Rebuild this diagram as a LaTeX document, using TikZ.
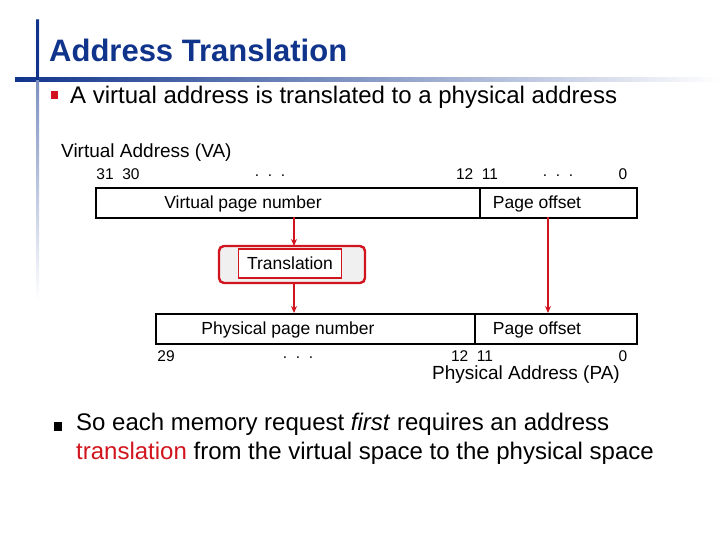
\documentclass[tikz,border=0pt]{standalone}
\usepackage{fontspec}
\setmainfont{Liberation Sans}
\usetikzlibrary{arrows.meta}
\definecolor{ttl}{RGB}{16,52,140}
\definecolor{rd}{RGB}{210,20,30}
\begin{document}
\begin{tikzpicture}[x=1pt,y=-1pt,
  fld/.style={draw,line width=1.6pt,anchor=north west,inner sep=0pt},
  lbl/.style={font=\fontsize{17.5}{19}\selectfont,inner sep=0pt},
  num/.style={font=\fontsize{15.5}{17}\selectfont,inner sep=0pt},
  arr/.style={draw=rd,line width=1.3pt,-{Stealth[length=7pt,width=6pt]}}]
\useasboundingbox (0,0) rectangle (720,540);
\fill[white] (0,0) rectangle (720,540);
\shade[left color=ttl,right color=white] (15,78) rectangle (720,82);
\shade[top color=ttl!70,bottom color=white] (36,20) rectangle (39,300);
\fill[ttl] (36,20) rectangle (39,80);
\node[anchor=west,text=ttl,font=\fontsize{31}{33}\selectfont\bfseries,inner sep=0pt] (title) at (49,50) {Address Translation};
\fill[rd] (51,91) rectangle (58,99);
\node[anchor=west,font=\fontsize{24}{26}\selectfont,inner sep=0pt] (b1) at (70,97) {A virtual address is translated to a physical address};
\node[anchor=west,font=\fontsize{19}{21}\selectfont,inner sep=0pt] (va) at (61,153) {Virtual Address (VA)};
\node[fld,minimum width=384pt,minimum height=30pt] (vpn) at (95,187) {};
\node[fld,minimum width=157pt,minimum height=30pt] (vpo) at (479,187) {};
\node[lbl] at (243,204) {Virtual page number};
\node[lbl] at (537,204) {Page offset};
\node[num] (t1) at (118,174) {31~~30};
\node[num] (t2) at (270,176) {.~~.~~.};
\node[num] (t3) at (477,174) {12~~11};
\node[num] (t4) at (558,176) {.~~.~~.};
\node[num] (t5) at (623,174) {0};
\node[draw=rd,line width=2.4pt,rounded corners=5pt,fill=gray!12,minimum width=146pt,minimum height=37pt] (tro) at (292,264.5) {};
\node[draw=rd,line width=1.8pt,fill=white,minimum width=103pt,minimum height=29pt,lbl,inner sep=0pt] (tr) at (290,263.5) {Translation};
\node[fld,minimum width=319pt,minimum height=30pt] (ppn) at (155,313) {};
\node[fld,minimum width=162pt,minimum height=30pt] (ppo) at (474,313) {};
\node[lbl] at (288,330) {Physical page number};
\node[lbl] at (537,330) {Page offset};
\node[num] at (166,356) {29};
\node[num] at (298,358) {.~~.~~.};
\node[num] at (472,356) {12~~11};
\node[num] at (623,356) {0};
\node[anchor=west,font=\fontsize{19}{21}\selectfont,inner sep=0pt] (pa) at (432,375) {Physical Address (PA)};
\coordinate (a1) at (294,217); \coordinate (a2) at (294,246);
\coordinate (a3) at (294,283); \coordinate (a4) at (294,313);
\coordinate (a5) at (548,217); \coordinate (a6) at (548,313);
\draw[arr] (a1) -- (a2);
\draw[arr] (a3) -- (a4);
\draw[arr] (a5) -- (a6);
\fill[black] (54,422) rectangle (62,431);
\node[anchor=north west,align=left,font=\fontsize{24}{29}\selectfont,inner sep=0pt] (b2) at (76,413) {So each memory request \textit{first} requires an address\\\textcolor{rd}{translation} from the virtual space to the physical space};
\end{tikzpicture}
\end{document}
